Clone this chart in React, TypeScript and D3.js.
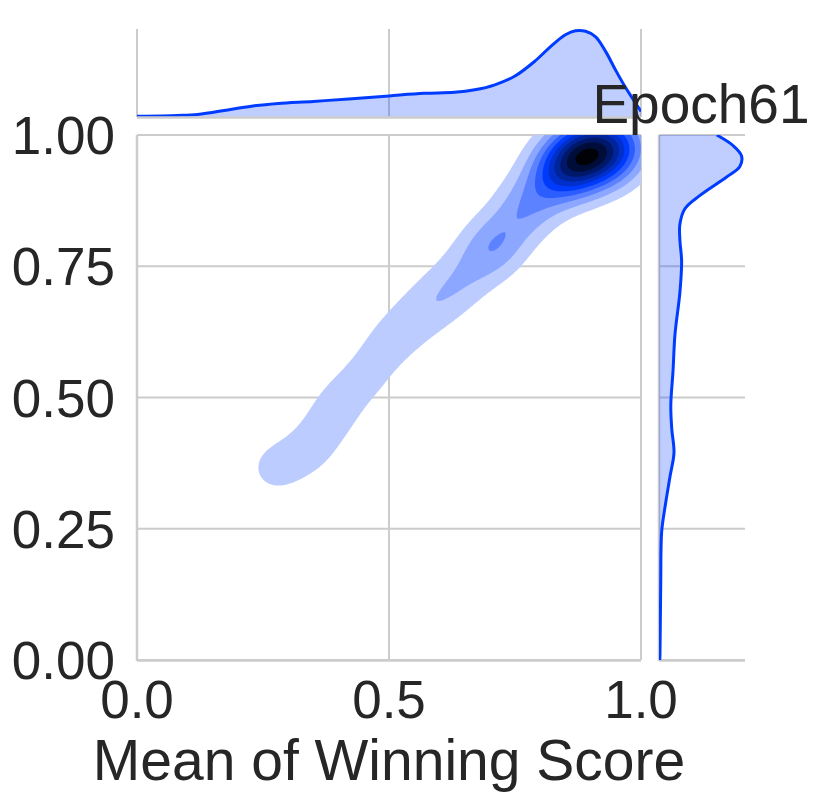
import React, { useMemo } from 'react';
import * as d3 from 'd3';

const W = 831;
const H = 807;

// ---- text / ticks ----
const xTicks = [0, 0.5, 1.0];
const xTickLabels = ['0.0', '0.5', '1.0'];
const yTicks = [0, 0.25, 0.5, 0.75, 1.0];
const yTickLabels = ['0.00', '0.25', '0.50', '0.75', '1.00'];
const titleText = 'Epoch61';
const xLabelText = 'Mean of Winning Score';

// ---- joint KDE: weighted sample locations ----
const jointX = [0.27, 0.338, 0.375, 0.405, 0.455, 0.495, 0.54, 0.585, 0.63, 0.668, 0.708, 0.745, 0.778,
  0.82, 0.85, 0.88, 0.91, 0.94, 0.97, 0.86, 0.91, 0.96];
const jointY = [0.364, 0.394, 0.445, 0.495, 0.542, 0.598, 0.64, 0.678, 0.713, 0.752, 0.788, 0.83, 0.868,
  0.915, 0.945, 0.962, 0.972, 0.98, 0.985, 0.925, 0.94, 0.95];
const jointW = [1.6, 1.35, 1.2, 1.3, 1.3, 1.3, 1.3, 1.45, 1.55, 1.35, 2.8, 1.45, 2.5,
  2.7, 3.5, 4.5, 4.0, 3.0, 2.0, 1.5, 1.5, 1.0];
const bandwidthX = 0.045;
const bandwidthY = 0.043;
const levelFractions = [0.095, 0.19, 0.285, 0.38, 0.475, 0.57, 0.665, 0.76, 0.855, 0.95];
const levelLightness = [0.87, 0.775, 0.68, 0.585, 0.49, 0.395, 0.3, 0.205, 0.11, 0.015];

// ---- marginal densities ----
const xMarginX = [0.0, 0.08, 0.12, 0.18, 0.23, 0.28, 0.35, 0.42, 0.5, 0.57, 0.63, 0.67, 0.71, 0.75,
  0.79, 0.82, 0.85, 0.87, 0.89, 0.91, 0.93, 0.95, 0.97, 1.0];
const xMarginD = [0.03, 0.06, 0.1, 0.28, 0.44, 0.54, 0.62, 0.72, 0.84, 0.94, 0.98, 1.08, 1.28, 1.63,
  2.23, 2.79, 3.27, 3.43, 3.41, 3.19, 2.6, 1.85, 1.15, 0.22];
const yMarginY = [0.0, 0.01, 0.145, 0.245, 0.29, 0.35, 0.395, 0.44, 0.485, 0.55, 0.62, 0.7, 0.76,
  0.8, 0.83, 0.86, 0.885, 0.92, 0.94, 0.96, 0.98, 1.0];
const yMarginD = [0.03, 0.04, 0.07, 0.11, 0.24, 0.45, 0.61, 0.52, 0.48, 0.57, 0.65, 0.85, 0.92,
  0.85, 0.85, 1.06, 1.67, 2.75, 3.29, 3.36, 3.01, 2.35];

const BASE_HUE = 226;
const LINE_COLOR = d3.hsl(BASE_HUE, 1, 0.5).toString();
const GRID = '#cccccc';
const TEXT = '#262626';
const FONT = '"Liberation Sans", Arial, Helvetica, sans-serif';

export default function App() {
  // layout
  const mL = 137, mR = 641, mT = 135, mB = 660;
  const tT = 29, tB = 117;
  const rL = 659, rR = 745;

  const x = d3.scaleLinear().domain([0, 1]).range([mL, mR]);
  const y = d3.scaleLinear().domain([0, 1]).range([mB, mT]);
  const xd = d3.scaleLinear().domain([0, 3.5]).range([tB, tT]);
  const yd = d3.scaleLinear().domain([0, 3.5]).range([rL, rR]);

  const contourPaths = useMemo(() => {
    const g0 = -0.1, g1 = 1.1, n = 241;
    const step = (g1 - g0) / (n - 1);
    const vals = new Float64Array(n * n);
    let max = 0;
    for (let j = 0; j < n; j++) {
      const gy = g0 + j * step;
      for (let i = 0; i < n; i++) {
        const gx = g0 + i * step;
        let s = 0;
        for (let k = 0; k < jointX.length; k++) {
          const dx = (gx - jointX[k]) / bandwidthX;
          const dy = (gy - jointY[k]) / bandwidthY;
          s += jointW[k] * Math.exp(-0.5 * (dx * dx + dy * dy));
        }
        vals[i + j * n] = s;
        if (s > max) max = s;
      }
    }
    const thr = levelFractions.map((f) => f * max);
    const cs = d3.contours().size([n, n]).thresholds(thr)(Array.from(vals));
    const proj = d3.geoTransform({
      point(px: number, py: number) {
        (this as any).stream.point(x(g0 + (px - 0.5) * step), y(g0 + (py - 0.5) * step));
      },
    });
    const path = d3.geoPath(proj);
    return cs.map((c, i) => ({ d: path(c as any) || '', fill: d3.hsl(BASE_HUE, 1, levelLightness[i]).toString() }));
  }, []);

  const topPts = xMarginX.map((v, i) => [v, xMarginD[i]] as [number, number]);
  const topArea = d3.area<[number, number]>().x((d) => x(d[0])).y0(xd(0)).y1((d) => xd(d[1]))
    .curve(d3.curveCatmullRom.alpha(0.5))(topPts) || '';
  const topLine = d3.line<[number, number]>().x((d) => x(d[0])).y((d) => xd(d[1]))
    .curve(d3.curveCatmullRom.alpha(0.5))(topPts) || '';

  const rightPts = yMarginY.map((v, i) => [v, yMarginD[i]] as [number, number]);
  const rightArea = d3.area<[number, number]>().y((d) => y(d[0])).x0(yd(0)).x1((d) => yd(d[1]))
    .curve(d3.curveCatmullRom.alpha(0.5))(rightPts) || '';
  const rightLine = d3.line<[number, number]>().y((d) => y(d[0])).x((d) => yd(d[1]))
    .curve(d3.curveCatmullRom.alpha(0.5))(rightPts) || '';

  const tickFont = 53;

  return (
    <svg width={W} height={H} style={{ position: 'absolute', left: 0, top: 0, background: '#fff' }}
      fontFamily={FONT}>
      <defs>
        <clipPath id="clipMain"><rect x={mL} y={mT} width={mR - mL} height={mB - mT} /></clipPath>
        <clipPath id="clipTop"><rect x={mL} y={tT - 5} width={mR - mL} height={tB - tT + 5} /></clipPath>
        <clipPath id="clipRight"><rect x={rL} y={mT} width={rR - rL + 5} height={mB - mT} /></clipPath>
      </defs>
      <rect x={0} y={0} width={W} height={H} fill="#fff" />

      {/* main grid */}
      {xTicks.map((t, i) => (
        <line key={'gx' + i} x1={x(t)} x2={x(t)} y1={mT} y2={mB} stroke={GRID} strokeWidth={2} />
      ))}
      {yTicks.map((t, i) => (
        <line key={'gy' + i} x1={mL} x2={mR} y1={y(t)} y2={y(t)} stroke={GRID} strokeWidth={2} />
      ))}

      {/* joint contours */}
      <g clipPath="url(#clipMain)">
        {contourPaths.map((c, i) => (
          <path key={'c' + i} d={c.d} fill={c.fill} stroke="none" />
        ))}
      </g>

      {/* main spines */}
      <line x1={mL} x2={mL} y1={mT} y2={mB + 1} stroke={GRID} strokeWidth={2.5} />
      <line x1={mL} x2={mR} y1={mB + 0.5} y2={mB + 0.5} stroke={GRID} strokeWidth={2.5} />

      {/* top marginal */}
      {xTicks.map((t, i) => (
        <line key={'tg' + i} x1={x(t)} x2={x(t)} y1={tT} y2={tB} stroke={GRID} strokeWidth={2} />
      ))}
      <g clipPath="url(#clipTop)">
        <path d={topArea} fill={LINE_COLOR} fillOpacity={0.25} />
        <path d={topLine} fill="none" stroke={LINE_COLOR} strokeWidth={3} />
      </g>
      <line x1={mL} x2={mR} y1={tB + 0.5} y2={tB + 0.5} stroke={GRID} strokeWidth={2.5} />

      {/* right marginal */}
      {yTicks.map((t, i) => (
        <line key={'rg' + i} x1={rL} x2={rR} y1={y(t)} y2={y(t)} stroke={GRID} strokeWidth={2} />
      ))}
      <line x1={rL} x2={rL} y1={mT} y2={mB + 1} stroke={GRID} strokeWidth={2.5} />
      <line x1={rL} x2={rR} y1={mB + 0.5} y2={mB + 0.5} stroke={GRID} strokeWidth={2.5} />
      <g clipPath="url(#clipRight)">
        <path d={rightArea} fill={LINE_COLOR} fillOpacity={0.25} />
        <path d={rightLine} fill="none" stroke={LINE_COLOR} strokeWidth={3} />
      </g>

      {/* tick labels */}
      {yTicks.map((t, i) => (
        <text key={'yl' + i} x={115} y={y(t) + 19} textAnchor="end" fontSize={tickFont} fill={TEXT}>
          {yTickLabels[i]}
        </text>
      ))}
      {xTicks.map((t, i) => (
        <text key={'xl' + i} x={x(t)} y={718} textAnchor="middle" fontSize={tickFont} fill={TEXT}>
          {xTickLabels[i]}
        </text>
      ))}
      <text x={(mL + mR) / 2} y={780} textAnchor="middle" fontSize={57} fill={TEXT}>{xLabelText}</text>
      <text x={(rL + rR) / 2 - 1} y={123} textAnchor="middle" fontSize={55} fill={TEXT}>{titleText}</text>
    </svg>
  );
}
